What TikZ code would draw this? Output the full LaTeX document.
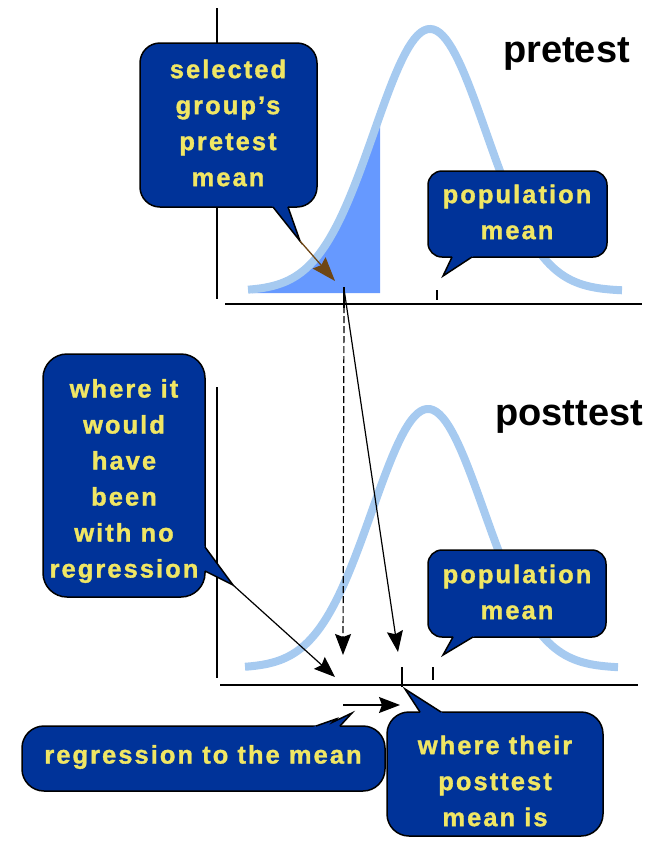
\documentclass[tikz,border=0pt]{standalone}
\usepackage{fontspec}
\setmainfont{Liberation Sans}
\newfontfamily\callfont[LetterSpace=8,FakeBold=1.3]{Liberation Sans}
\usetikzlibrary{arrows.meta,calc}
\definecolor{boxblue}{RGB}{0,51,153}
\definecolor{txtyellow}{RGB}{240,230,100}
\definecolor{curveblue}{RGB}{166,202,240}
\definecolor{shadeblue}{RGB}{102,153,255}
\definecolor{arrowbrown}{RGB}{110,70,20}
\tikzset{
 callbox/.style={fill=boxblue, draw=black, line width=1.5pt},
 callline/.style={draw=black, line width=1.5pt, line join=miter},
 calltext/.style={text=txtyellow, font=\callfont\bfseries\fontsize{25.5}{36}\selectfont, align=center, inner sep=0pt},
 curveline/.style={draw=curveblue, line width=8pt},
 axisline/.style={draw=black, line width=1.5pt},
 tickline/.style={draw=black, line width=1.5pt},
 pointarrow/.style={draw=black, line width=1.2pt, -{Stealth[length=21pt,width=16pt,inset=3pt]}},
 brownarrow/.style={draw=arrowbrown, line width=1.3pt, -{Stealth[length=24pt,width=17pt,inset=3pt]}},
 titletext/.style={font=\bfseries\fontsize{38}{44}\selectfont, anchor=base west, inner sep=0pt},
}
% #1-#4 box corners, #5 radius, #6 tip, #7 #8 base points on the edge
\newcommand\mycallout[8]{%
 \filldraw[callbox, rounded corners=#5] (#1,#2) rectangle (#3,#4);
 \fill[boxblue] (#6) -- ($(#6)!1.3!(#7)$) -- ($(#6)!1.3!(#8)$) -- cycle;
 \draw[callline] (#7) -- (#6) -- (#8);
}
\begin{document}
\begin{tikzpicture}[x=1pt,y=-1pt]
\useasboundingbox (0,0) rectangle (657,841);

% ---------- pretest ----------
\fill[shadeblue] plot[domain=252:380,samples=60] (\x,{291-262*exp(-0.5*((\x-430)/56)^2)}) -- (380,293) -- (252,293) -- cycle;
\draw[curveline] plot[domain=248:622,samples=120] (\x,{291-262*exp(-0.5*((\x-430)/56)^2)});
\draw[axisline] (217,8) -- (217,299);
\draw[axisline] (225,304) -- (642,304);
\draw[tickline] (344,287) -- (344,308);
\draw[tickline] (437,290) -- (437,300);
\node[titletext] (pretitle) at (503,62) {pretest};

% ---------- posttest ----------
\draw[curveline] plot[domain=245:618,samples=120] (\x,{668-259*exp(-0.5*((\x-428)/56)^2)});
\draw[axisline] (217,387) -- (217,678);
\draw[axisline] (220,685) -- (638,685);
\draw[tickline] (402,667) -- (402,687);
\draw[tickline] (433,667) -- (433,680);
\node[titletext] (posttitle) at (495,425) {posttest};

% ---------- callouts ----------
\mycallout{140}{43}{317}{207}{20}{300,241}{273,207}{288,207}
\node[calltext] (selgroup) at (228,123) {selected\\group’s\\pretest\\mean};

\mycallout{428}{171}{607}{257}{14}{443,276}{452,257}{472,257}
\node[calltext] (prepop) at (517,212) {population\\mean};

\mycallout{43}{354}{205}{597}{24}{233,585}{205,547}{205,571}
\node[calltext] (wouldbe) at (124,481) {where it\\would\\have\\been\\with no\\regression};

\mycallout{428}{550}{606}{637}{14}{443,655}{453,637}{473,637}
\node[calltext] (postpop) at (517,592) {population\\mean};

\filldraw[callbox, rounded corners=22] (22,726) rectangle (385,791);
\fill[boxblue] (290,735) -- (336,719) -- (333,722) -- (352,713) -- (332,735) -- cycle;
\draw[callline] (316,726) -- (336,719) -- (333,722) -- (352,713) -- (340,726);
\node[calltext] (regtext) at (203,757) {regression to the mean};

\mycallout{387}{712}{603}{836}{22}{405,689}{420,712}{441,712}
\node[calltext] (theirmean) at (495,781) {where their\\posttest\\mean is};

% ---------- arrows ----------
\coordinate (seltip) at (300,241);
\coordinate (selmean) at (335,281);
\draw[brownarrow] (seltip) -- (selmean);

\coordinate (pretick) at (344,289);
\coordinate (pretickb) at (344,306);
\coordinate (nores) at (343,655);
\coordinate (postmean) at (398,652);
\draw[pointarrow, dash pattern=on 7pt off 3pt] (pretickb) -- (nores);
\draw[pointarrow] (pretick) -- (postmean);

\coordinate (wtip) at (233,585);
\coordinate (wouldpt) at (335,677);
\draw[pointarrow] (wtip) -- (wouldpt);

\coordinate (regstart) at (343,705);
\coordinate (regend) at (400,705);
\draw[pointarrow] (regstart) -- (regend);
\end{tikzpicture}
\end{document}
